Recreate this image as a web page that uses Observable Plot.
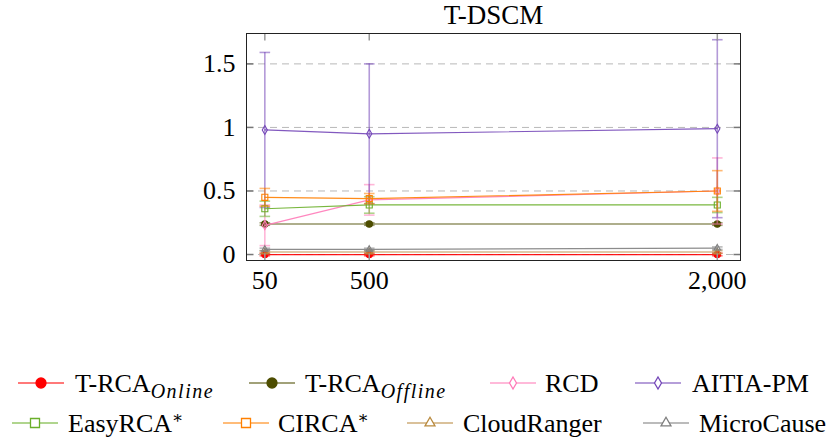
<!DOCTYPE html>
<html><head><meta charset="utf-8">
<script src="https://cdn.jsdelivr.net/npm/d3@7"></script>
<script src="https://cdn.jsdelivr.net/npm/@observablehq/plot@0.6"></script>
<style>
body{margin:0;background:#fff;}
#wrap{position:relative;width:831px;height:440px;font-family:"Liberation Serif","DejaVu Serif",serif;}
#wrap svg, #wrap text{font-family:"Liberation Serif","DejaVu Serif",serif;}
#legend{position:absolute;left:0;top:300px;}
</style></head><body><div id="wrap"></div>
<script>
// ---- data ----
const title = "T-DSCM";
const sizes = [50, 500, 2000];
const sizeLabels = ["50", "500", "2,000"];
const yTicks = [0, 0.5, 1, 1.5];
const yTickLabels = ["0", "0.5", "1", "1.5"];
const methods = ["T-RCA Online", "T-RCA Offline", "RCD", "AITIA-PM", "EasyRCA*", "CIRCA*", "CloudRanger", "MicroCause"];
const colors = ["#ff0000", "#4d4d00", "#ff7ab8", "#7447b8", "#6aaf2a", "#ff8000", "#b98a3e", "#7f7f7f"];
const markerShapes = ["circle", "circle", "diamond", "diamond", "square", "square", "triangle", "triangle"];
const markerFilled = [true, true, false, false, false, false, false, false];

const meanOnline = [0.00, 0.00, 0.00];
const sdOnline = [0.01, 0.01, 0.01];
const meanOffline = [0.24, 0.24, 0.24];
const sdOffline = [0.01, 0.01, 0.01];
const meanRCD = [0.23, 0.43, 0.50];
const sdRCD = [0.16, 0.12, 0.26];
const meanAITIA = [0.98, 0.95, 0.99];
const sdAITIA = [0.61, 0.55, 0.70];
const meanEasyRCA = [0.36, 0.39, 0.39];
const sdEasyRCA = [0.06, 0.065, 0.06];
const meanCIRCA = [0.45, 0.44, 0.50];
const sdCIRCA = [0.07, 0.04, 0.16];
const meanCloudRanger = [0.02, 0.02, 0.02];
const sdCloudRanger = [0.01, 0.01, 0.01];
const meanMicroCause = [0.04, 0.04, 0.05];
const sdMicroCause = [0.01, 0.01, 0.01];

const means = [meanOnline, meanOffline, meanRCD, meanAITIA, meanEasyRCA, meanCIRCA, meanCloudRanger, meanMicroCause];
const sds = [sdOnline, sdOffline, sdRCD, sdAITIA, sdEasyRCA, sdCIRCA, sdCloudRanger, sdMicroCause];

// ---- build rows ----
const rows = [];
methods.forEach((m, i) => sizes.forEach((s, j) => rows.push({method: m, idx: i, size: s, mean: means[i][j], sd: sds[i][j]})));

// custom line symbols
const lineSym = (x0, y0, x1, y1) => ({draw(ctx, size) { const r = Math.sqrt(size / Math.PI); ctx.moveTo(x0 * r, y0 * r); ctx.lineTo(x1 * r, y1 * r); }});
const capSym = lineSym(-1, 0, 1, 0);
const tickUp = lineSym(0, 0, 0, -1);
const tickDown = lineSym(0, 0, 0, 1);
const tickRightward = lineSym(0, 0, 1, 0);
const tickLeftward = lineSym(0, 0, -1, 0);

const plotR = {circle: 3.2, diamond: 2.7, square: 3.4, triangle: 2.4};
const FONT = "'Liberation Serif', 'DejaVu Serif', serif";

const marks = [
  Plot.ruleY(yTicks, {stroke: "#b8b8b8", strokeDasharray: "7,5", strokeWidth: 1})
];
methods.forEach((m, i) => {
  const d = rows.filter(r => r.idx === i);
  const c = colors[i];
  marks.push(
    Plot.ruleX(d, {x: "size", y1: r => r.mean - r.sd, y2: r => r.mean + r.sd, stroke: c, strokeOpacity: 0.55, strokeWidth: 1.6}),
    Plot.dot(d, {x: "size", y: r => r.mean + r.sd, symbol: capSym, r: 5.3, fill: "none", stroke: c, strokeOpacity: 0.55, strokeWidth: 1.6}),
    Plot.dot(d, {x: "size", y: r => r.mean - r.sd, symbol: capSym, r: 5.3, fill: "none", stroke: c, strokeOpacity: 0.55, strokeWidth: 1.6}),
    Plot.line(d, {x: "size", y: "mean", stroke: c, strokeWidth: 1.2, strokeOpacity: 0.9}),
    Plot.dot(d, {x: "size", y: "mean", symbol: markerShapes[i], r: plotR[markerShapes[i]],
      fill: markerFilled[i] ? c : "none", stroke: c, strokeWidth: 1.1})
  );
});
marks.push(
  Plot.dot(sizes, {x: d => d, frameAnchor: "bottom", symbol: tickUp, r: 7, stroke: "#999", fill: "none"}),
  Plot.dot(sizes, {x: d => d, frameAnchor: "top", symbol: tickDown, r: 7, stroke: "#999", fill: "none"}),
  Plot.dot(yTicks, {y: d => d, frameAnchor: "left", symbol: tickRightward, r: 7, stroke: "#777", fill: "none"}),
  Plot.dot(yTicks, {y: d => d, frameAnchor: "right", symbol: tickLeftward, r: 7, stroke: "#777", fill: "none"}),
  Plot.axisX(sizes, {tickSize: 0, tickPadding: 10, tickFormat: d => sizeLabels[sizes.indexOf(d)], fill: "#000", fontFamily: FONT, fontSize: 26}),
  Plot.axisY(yTicks, {tickSize: 0, tickPadding: 11, tickFormat: d => yTickLabels[yTicks.indexOf(d)], fill: "#000", fontFamily: FONT, fontSize: 26}),
  Plot.frame({stroke: "#222", strokeWidth: 1}),
  Plot.text([title], {frameAnchor: "top", lineAnchor: "bottom", dy: -10, fontSize: 27, fill: "#000", fontFamily: FONT})
);

const chart = Plot.plot({
  width: 831, height: 300,
  marginLeft: 246, marginRight: 91, marginTop: 33, marginBottom: 40,
  x: {type: "linear", domain: [-29, 2100], label: null},
  y: {domain: [-0.047, 1.739], label: null},
  style: {fontFamily: FONT, fontSize: "26px", color: "#000", background: "#fff"},
  marks
});
const wrap = document.getElementById("wrap");
wrap.appendChild(chart);

// ---- legend ----
const legendItems = [
  {i: 0, row: 0, x1: 18, tx: 75},
  {i: 1, row: 0, x1: 249, tx: 305},
  {i: 2, row: 0, x1: 490, tx: 545},
  {i: 3, row: 0, x1: 635, tx: 692},
  {i: 4, row: 1, x1: 12, tx: 68},
  {i: 5, row: 1, x1: 223, tx: 278},
  {i: 6, row: 1, x1: 407, tx: 463},
  {i: 7, row: 1, x1: 643, tx: 699}
];
const rowY = [83, 123];
const legendSize = {circle: 78, diamond: 42, square: 81, triangle: 43};
const symType = {circle: d3.symbolCircle, diamond: d3.symbolDiamond, square: d3.symbolSquare, triangle: d3.symbolTriangle};
const svg = d3.select(wrap).append("svg").attr("id", "legend").attr("width", 831).attr("height", 140)
  .attr("font-family", FONT).attr("font-size", 26);
legendItems.forEach(it => {
  const c = colors[it.i], y = rowY[it.row], shape = markerShapes[it.i];
  const g = svg.append("g");
  g.append("line").attr("x1", it.x1).attr("x2", it.x1 + 46).attr("y1", y).attr("y2", y)
    .attr("stroke", c).attr("stroke-opacity", 0.7).attr("stroke-width", 1.3);
  g.append("path").attr("transform", `translate(${it.x1 + 23},${y})`)
    .attr("d", d3.symbol(symType[shape], legendSize[shape])())
    .attr("fill", markerFilled[it.i] ? c : "#fff").attr("stroke", c).attr("stroke-width", 1.3);
  const t = g.append("text").attr("x", it.tx).attr("y", y + 8.5).attr("fill", "#000");
  const name = methods[it.i];
  if (name.startsWith("T-RCA ")) {
    t.append("tspan").text("T-RCA");
    t.append("tspan").attr("dy", 6).attr("font-style", "italic").attr("font-size", 20).attr("letter-spacing", 1.5).text(name.slice(6));
  } else if (name.endsWith("*")) {
    t.append("tspan").text(name.slice(0, -1));
    t.append("tspan").attr("dy", -9).attr("font-size", 17).text("∗");
  } else {
    t.text(name);
  }
});
</script>
</body></html>
